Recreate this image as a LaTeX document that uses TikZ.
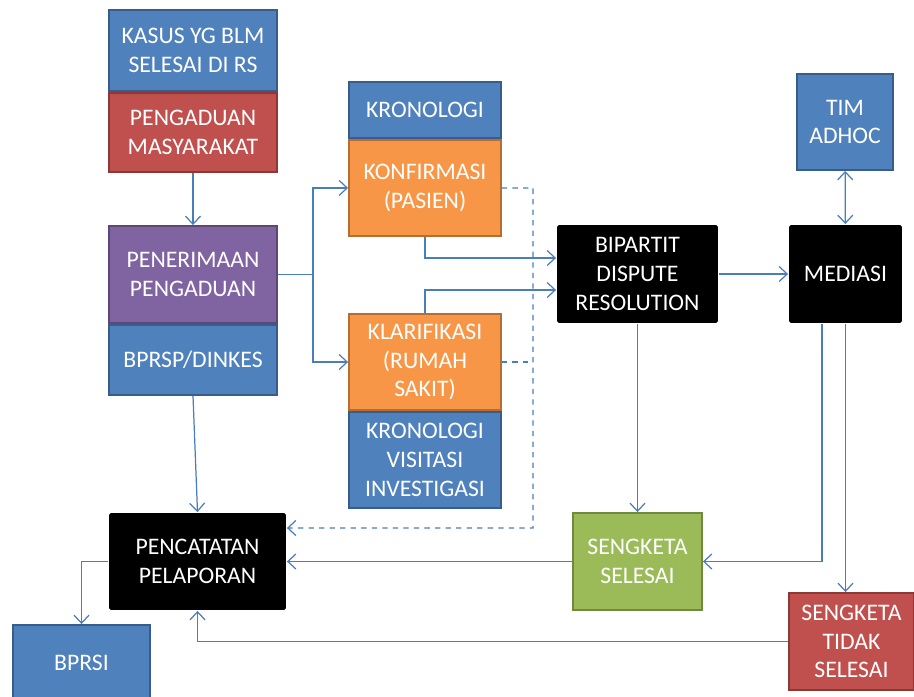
\documentclass[tikz,border=0pt]{standalone}
\usepackage{fontspec}
\setmainfont{Carlito}
\usetikzlibrary{arrows.meta, positioning}

\definecolor{boxblue}{HTML}{4F81BD}
\definecolor{edgeblue}{HTML}{385D8A}
\definecolor{boxred}{HTML}{C0504D}
\definecolor{edgered}{HTML}{8C3836}
\definecolor{boxpurple}{HTML}{8064A2}
\definecolor{edgepurple}{HTML}{5C4776}
\definecolor{boxorange}{HTML}{F79646}
\definecolor{edgeorange}{HTML}{B66D31}
\definecolor{boxgreen}{HTML}{9BBB59}
\definecolor{edgegreen}{HTML}{71893F}
\definecolor{linkblue}{HTML}{4A7EBB}

\tikzstyle{box} = [rectangle, inner sep=0pt, align=center, text=white, line width=1.1pt, font=\fontsize{13.5}{16.3}\selectfont]
\tikzstyle{bluebox} = [box, fill=boxblue, draw=edgeblue]
\tikzstyle{redbox} = [box, fill=boxred, draw=edgered]
\tikzstyle{purplebox} = [box, fill=boxpurple, draw=edgepurple]
\tikzstyle{orangebox} = [box, fill=boxorange, draw=edgeorange]
\tikzstyle{greenbox} = [box, fill=boxgreen, draw=edgegreen]
\tikzstyle{blackbox} = [box, fill=black, rounded corners=1pt]
\tikzstyle{arrow} = [draw=linkblue, line width=0.7pt, -{Straight Barb[length=1.6mm,width=3mm]}]
\tikzstyle{twoway} = [draw=linkblue, line width=0.7pt, {Straight Barb[length=1.6mm,width=3mm]}-{Straight Barb[length=1.6mm,width=3mm]}]
\tikzstyle{dasharrow} = [arrow, dashed]
\tikzstyle{dashline} = [draw=linkblue, line width=0.7pt, dashed]

\begin{document}
\begin{tikzpicture}[x=0.02cm, y=-0.02cm]

    \useasboundingbox (0,0) rectangle (914,697);

    % left column
    \node (kasus) [bluebox, minimum width=3.36cm, minimum height=1.62cm] at (193,50.5) {KASUS YG BLM\\SELESAI DI RS};
    \node (pengaduan) [redbox, minimum width=3.36cm, minimum height=1.58cm, below=0pt of kasus] {PENGADUAN\\MASYARAKAT};
    \node (penerimaan) [purplebox, minimum width=3.36cm, minimum height=1.94cm] at (193,274.5) {PENERIMAAN\\PENGADUAN};
    \node (bprsp) [bluebox, minimum width=3.36cm, minimum height=1.40cm, below=0pt of penerimaan] {BPRSP/DINKES};

    % middle column
    \node (kronologi) [bluebox, minimum width=3.04cm, minimum height=1.12cm] at (425,110) {KRONOLOGI};
    \node (konfirmasi) [orangebox, minimum width=3.04cm, minimum height=1.92cm, below=0pt of kronologi] {KONFIRMASI\\(PASIEN)};
    \node (klarifikasi) [orangebox, minimum width=3.04cm, minimum height=1.92cm] at (425,362) {KLARIFIKASI\\(RUMAH\\SAKIT)};
    \node (visitasi) [bluebox, minimum width=3.04cm, minimum height=1.92cm, below=0pt of klarifikasi] {KRONOLOGI\\VISITASI\\INVESTIGASI};

    % right part
    \node (bipartit) [blackbox, minimum width=3.22cm, minimum height=1.96cm] at (637.5,274) {BIPARTIT\\DISPUTE\\RESOLUTION};
    \node (mediasi) [blackbox, minimum width=2.26cm, minimum height=1.96cm] at (845.5,274) {MEDIASI};
    \node (adhoc) [bluebox, minimum width=1.92cm, minimum height=1.92cm] at (845,122) {TIM\\ADHOC};

    % bottom row
    \node (pencatatan) [blackbox, minimum width=3.54cm, minimum height=1.94cm] at (197.5,561.5) {PENCATATAN\\PELAPORAN};
    \node (selesai) [greenbox, minimum width=2.58cm, minimum height=1.94cm] at (637.5,561.5) {SENGKETA\\SELESAI};
    \node (tidak) [redbox, minimum width=2.5cm, minimum height=1.94cm] at (851.5,641.5) {SENGKETA\\TIDAK\\SELESAI};
    \node (bprsi) [bluebox, minimum width=2.74cm, minimum height=1.5cm] at (81.5,662.5) {BPRSI};

    \coordinate (split) at (313,274.5);
    \coordinate (dashcorner) at (533,528);

    \draw [arrow] (pengaduan) -- (penerimaan);
    \draw [arrow] (penerimaan.east) -- (split) |- (konfirmasi.west);
    \draw [arrow] (split) |- (klarifikasi.west);
    \draw [arrow] (konfirmasi.south) |- ([yshift=0.32cm]bipartit.west);
    \draw [arrow] (klarifikasi.north) |- ([yshift=-0.32cm]bipartit.west);
    \draw [dasharrow] (konfirmasi.east) -| (dashcorner) -- ([yshift=0.67cm]pencatatan.east);
    \draw [dashline] (klarifikasi.east) -- (klarifikasi.east -| dashcorner);
    \draw [arrow] (bipartit) -- (mediasi);
    \draw [twoway] (adhoc) -- (mediasi);
    \draw [arrow] (bprsp.south) -- (pencatatan.north);
    \draw [arrow] (bipartit.south) -- (selesai.north);
    \draw [arrow] ([xshift=-0.47cm]mediasi.south) |- (selesai.east);
    \draw [arrow] (mediasi.south) -- (mediasi.south |- tidak.north);
    \draw [arrow] (selesai) -- (pencatatan);
    \draw [arrow] (tidak.west) -| (pencatatan.south);
    \draw [arrow] (pencatatan.west) -| (bprsi.north);

\end{tikzpicture}
\end{document}
